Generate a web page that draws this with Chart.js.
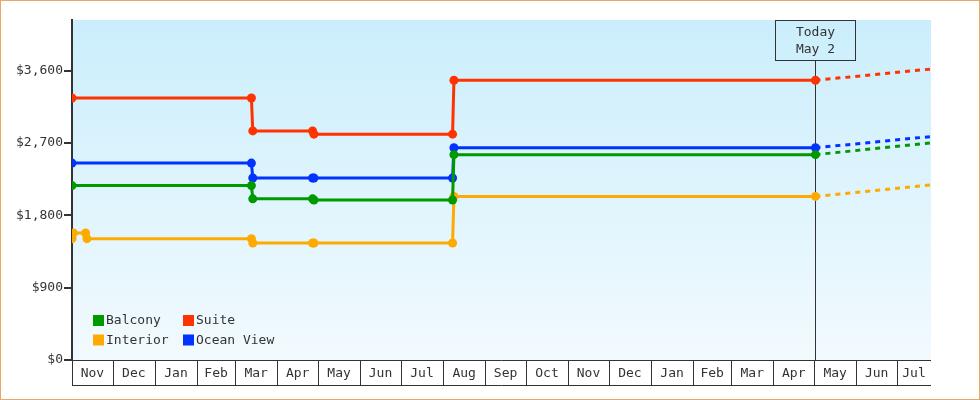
<!DOCTYPE html>
<html>
<head>
<meta charset="utf-8">
<script src="https://cdn.jsdelivr.net/npm/chart.js@4/dist/chart.umd.min.js"></script>
<style>
html, body { margin: 0; padding: 0; background: #fff; }
canvas { display: block; }
</style>
</head>
<body>
<canvas id="priceChart" width="980" height="400"></canvas>
<script>
// month bands along the bottom (day 0 = Nov 1)
const monthLabels = ['Nov','Dec','Jan','Feb','Mar','Apr','May','Jun','Jul','Aug','Sep','Oct','Nov','Dec','Jan','Feb','Mar','Apr','May','Jun','Jul'];
const monthDays = [30,31,31,28,31,30,31,30,31,31,30,31,30,31,31,28,31,30,31,30,31];
const axisEndDay = 632;
const todayDay = 547;
const todayLines = ['Today', 'May 2'];

const yMax = 4230;
const yStep = 900;

const cabinNames = ['Balcony', 'Suite', 'Interior', 'Ocean View'];
const cabinColors = ['#009900', '#ff3300', '#ffaa00', '#0033ff'];

// price history, days since Nov 1
const changeDays = [0, 132, 133, 177, 178, 280, 281, 547];
const interiorDays = [0, 1, 10, 11, 132, 133, 177, 178, 280, 281, 547];
const balconyPrices = [2170, 2170, 2005, 2005, 1990, 1990, 2555, 2555];
const suitePrices = [3260, 3260, 2850, 2850, 2810, 2810, 3480, 3480];
const interiorPrices = [1510, 1580, 1580, 1510, 1510, 1455, 1455, 1455, 1455, 2035, 2035];
const oceanViewPrices = [2450, 2450, 2265, 2265, 2265, 2265, 2640, 2640];

// projected price at the end of the axis
const forecastEnd = [2700, 3620, 2180, 2780];

const FONT = '13px "DejaVu Sans Mono", monospace';
const INK = '#333';

const historyDays = [changeDays, changeDays, interiorDays, changeDays];
const historyPrices = [balconyPrices, suitePrices, interiorPrices, oceanViewPrices];

function toPoints(days, prices) {
    return days.map((d, i) => ({ x: d, y: prices[i] }));
}

const datasets = [];
cabinNames.forEach((name, i) => {
    datasets.push({
        label: name,
        data: toPoints(historyDays[i], historyPrices[i]),
        borderColor: cabinColors[i],
        backgroundColor: cabinColors[i],
        borderWidth: 3,
        pointRadius: 4.5,
        pointBorderWidth: 0,
        tension: 0
    });
});
cabinNames.forEach((name, i) => {
    const prices = historyPrices[i];
    datasets.push({
        label: name + ' forecast',
        forecast: true,
        data: [{ x: todayDay, y: prices[prices.length - 1] }, { x: axisEndDay, y: forecastEnd[i] }],
        borderColor: cabinColors[i],
        borderWidth: 3,
        borderDash: [5, 5],
        pointRadius: 0,
        tension: 0
    });
});

const decorPlugin = {
    id: 'decor',
    beforeDraw(chart) {
        const { ctx, chartArea: a } = chart;
        const g = ctx.createLinearGradient(0, a.top, 0, a.bottom);
        g.addColorStop(0, '#cbeefc');
        g.addColorStop(1, '#f2fafe');
        ctx.save();
        ctx.fillStyle = g;
        ctx.fillRect(a.left, a.top, a.right - a.left, a.bottom - a.top);
        ctx.restore();
    },
    beforeDatasetsDraw(chart) {
        const { ctx, chartArea: a, scales } = chart;
        const x = Math.round(scales.x.getPixelForValue(todayDay)) + 0.5;
        ctx.save();
        ctx.strokeStyle = INK;
        ctx.lineWidth = 1;
        ctx.beginPath();
        ctx.moveTo(x, a.top + 40);
        ctx.lineTo(x, a.bottom);
        ctx.stroke();
        ctx.restore();
    },
    afterDraw(chart) {
        const { ctx, chartArea: a, scales } = chart;
        const xs = scales.x;
        ctx.save();
        ctx.font = FONT;
        ctx.fillStyle = INK;
        ctx.strokeStyle = INK;
        ctx.lineWidth = 1;

        // month band
        const top = a.bottom + 0.5, bot = a.bottom + 25.5;
        ctx.beginPath();
        ctx.moveTo(a.left, top); ctx.lineTo(a.right, top);
        ctx.moveTo(a.left, bot); ctx.lineTo(a.right, bot);
        ctx.stroke();
        ctx.textAlign = 'center';
        ctx.textBaseline = 'middle';
        let day = 0;
        monthLabels.forEach((m, i) => {
            const x0 = xs.getPixelForValue(day);
            const x1 = xs.getPixelForValue(Math.min(day + monthDays[i], axisEndDay));
            if (i === 0 || day < axisEndDay) {
                const sx = Math.round(x0) + 0.5;
                ctx.beginPath();
                ctx.moveTo(sx, top); ctx.lineTo(sx, bot);
                ctx.stroke();
            }
            ctx.fillText(m, (x0 + x1) / 2, a.bottom + 13.5);
            day += monthDays[i];
        });

        // today box
        const tx = Math.round(xs.getPixelForValue(todayDay)) + 0.5;
        ctx.strokeRect(tx - 40, a.top + 0.5, 80, 40);
        ctx.fillText(todayLines[0], tx, a.top + 12.5);
        ctx.fillText(todayLines[1], tx, a.top + 30);

        // legend, two columns
        ctx.textAlign = 'left';
        const cols = [a.left + 21, a.left + 111];
        const rows = [a.bottom - 39.5, a.bottom - 20];
        cabinNames.forEach((name, i) => {
            const cx = cols[i % 2], cy = rows[Math.floor(i / 2)];
            ctx.fillStyle = cabinColors[i];
            ctx.fillRect(cx, cy - 5.5, 11, 11);
            ctx.fillStyle = INK;
            ctx.fillText(name, cx + 13, cy + 0.5);
        });

        // outer frame
        ctx.strokeStyle = '#e6a862';
        ctx.strokeRect(0.5, 0.5, chart.width - 1, chart.height - 1);
        ctx.restore();
    }
};

new Chart(document.getElementById('priceChart'), {
    type: 'line',
    data: { datasets },
    options: {
        responsive: false,
        animation: false,
        devicePixelRatio: 1,
        events: [],
        layout: { padding: { left: 0, top: 20, right: 49, bottom: 40 } },
        plugins: { legend: { display: false }, tooltip: { enabled: false } },
        scales: {
            x: { type: 'linear', min: 0, max: axisEndDay, display: false },
            y: {
                min: 0,
                max: yMax,
                afterFit(s) { s.width = 72; },
                afterBuildTicks(s) {
                    s.ticks = [];
                    for (let v = 0; v <= yMax; v += yStep) s.ticks.push({ value: v });
                },
                border: { display: true, color: INK, width: 2 },
                grid: { drawOnChartArea: false, drawTicks: true, tickLength: 8, color: INK, lineWidth: 2 },
                ticks: {
                    color: INK,
                    padding: 1,
                    font: { family: '"DejaVu Sans Mono", monospace', size: 13 },
                    callback: v => '$' + v.toLocaleString('en-US')
                }
            }
        }
    },
    plugins: [decorPlugin]
});
</script>
</body>
</html>
